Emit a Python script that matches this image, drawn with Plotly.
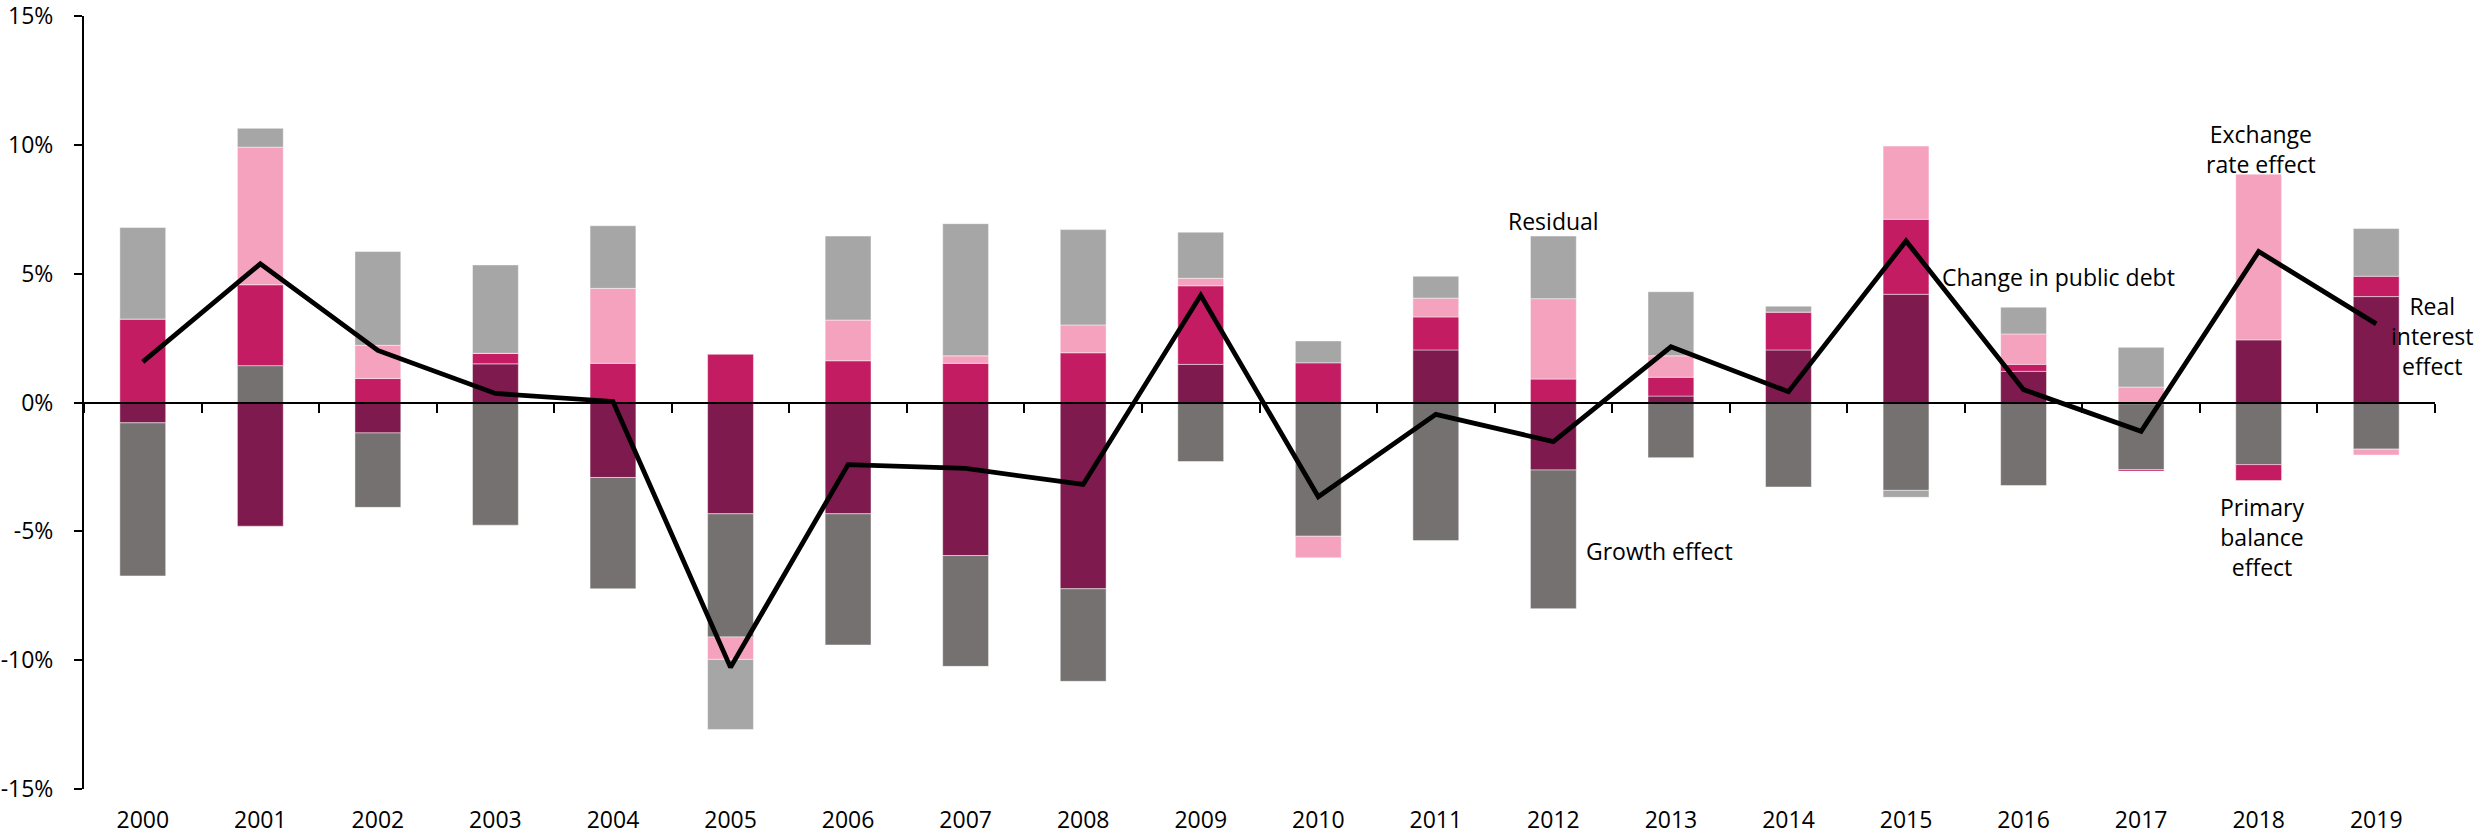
import plotly.graph_objects as go

years = [str(y) for y in range(2000, 2020)]

real_interest = [-0.79, -4.80, -1.18, 1.50, -2.91, -4.32, -4.32, -5.94, -7.23, 1.48,
                 0.0, 2.04, -2.62, 0.25, 2.04, 4.20, 1.21, -0.05, 2.43, 4.11]
growth = [-5.94, 1.43, -2.89, -4.76, -4.32, -4.78, -5.09, -4.30, -3.59, -2.29,
          -5.19, -5.36, -5.38, -2.14, -3.28, -3.41, -3.22, -2.55, -2.41, -1.81]
primary_balance = [3.24, 3.14, 0.93, 0.41, 1.52, 1.87, 1.62, 1.52, 1.93, 3.05,
                   1.54, 1.28, 0.91, 0.73, 1.47, 2.91, 0.27, -0.06, -0.62, 0.79]
exchange_rate = [0.0, 5.34, 1.29, 0.0, 2.91, -0.87, 1.58, 0.29, 1.08, 0.29,
                 -0.84, 0.73, 3.12, 0.83, 0.0, 2.84, 1.18, 0.60, 6.44, -0.23]
residual = [3.55, 0.73, 3.64, 3.43, 2.43, -2.72, 3.26, 5.13, 3.70, 1.79,
            0.85, 0.85, 2.43, 2.49, 0.23, -0.27, 1.04, 1.54, 0.0, 1.85]
change_in_debt = [1.58, 5.38, 2.02, 0.35, 0.04, -10.28, -2.41, -2.56, -3.18, 4.16,
                  -3.66, -0.46, -1.52, 2.16, 0.42, 6.27, 0.50, -1.12, 5.86, 3.05]

y_tickvals = [-15, -10, -5, 0, 5, 10, 15]
y_ticktext = ["-15%", "-10%", "-5%", "0%", "5%", "10%", "15%"]

series = [
    ("Real interest effect", real_interest, "#7F1A4E"),
    ("Growth effect", growth, "#767171"),
    ("Primary balance effect", primary_balance, "#C41C63"),
    ("Exchange rate effect", exchange_rate, "#F4A2BE"),
    ("Residual", residual, "#A6A6A6"),
]

FONT = "Open Sans"
fig = go.Figure()
for name, vals, col in series:
    fig.add_trace(go.Bar(
        x=years, y=vals, name=name,
        marker=dict(color=col, line=dict(color="rgba(255,255,255,0.45)", width=1)),
        xaxis="x", yaxis="y",
    ))

fig.add_trace(go.Scatter(
    x=years, y=change_in_debt, name="Change in public debt",
    mode="lines", line=dict(color="black", width=4.8),
    xaxis="x2", yaxis="y",
))

ann_font = dict(family=FONT, size=23, color="black")
annotations = [
    dict(x=12.0, y=7.06, text="Residual", xref="x"),
    dict(x=12.9, y=-5.78, text="Growth effect", xref="x"),
    dict(x=16.3, y=4.88, text="Change in public debt", xref="x"),
    dict(x=18.02, y=9.83, text="Exchange<br>rate effect", xref="x"),
    dict(x=18.03, y=-5.21, text="Primary<br>balance<br>effect", xref="x"),
    dict(x=1.0174, y=2.59, text="Real<br>interest<br>effect", xref="paper",
         xanchor="right"),
]
fig.update_layout(annotations=[
    dict(dict(yref="y", showarrow=False, font=ann_font, align="center",
              xanchor="center", yanchor="middle"), **a) for a in annotations
])

fig.update_layout(
    template="none",
    width=2478, height=836,
    paper_bgcolor="white", plot_bgcolor="white",
    barmode="relative", bargap=0.61,
    showlegend=False,
    margin=dict(l=84, r=43, t=16, b=47, pad=0, autoexpand=False),
    font=dict(family=FONT, size=23, color="black"),
    xaxis=dict(
        type="category", categoryorder="array", categoryarray=years,
        range=[-0.5, 19.5], showline=False, ticks="", showgrid=False,
        zeroline=False, tickfont=dict(family=FONT, size=23, color="black"),
        ticklabelstandoff=15, automargin=False,
    ),
    xaxis2=dict(
        type="category", categoryorder="array", categoryarray=years,
        overlaying="x", anchor="free", position=0.5, side="bottom",
        range=[-0.5, 19.5], showline=True, linecolor="black", linewidth=2,
        ticks="outside", tickson="boundaries", ticklen=9, tickwidth=2,
        tickcolor="black", showticklabels=False, showgrid=False, zeroline=False,
        automargin=False,
    ),
    yaxis=dict(
        range=[-15, 15], tickvals=y_tickvals, ticktext=y_ticktext,
        showline=True, linecolor="black", linewidth=2,
        ticks="outside", ticklen=8, tickwidth=2, tickcolor="black",
        showgrid=False, zeroline=False,
        tickfont=dict(family=FONT, size=23, color="black"),
        ticklabelstandoff=16, ticklabeloverflow="allow", automargin=False,
    ),
)

fig.write_html(
    "out.html",
    config={"displayModeBar": False},
    post_script="document.body.style.margin='0';document.body.style.padding='0';",
)
